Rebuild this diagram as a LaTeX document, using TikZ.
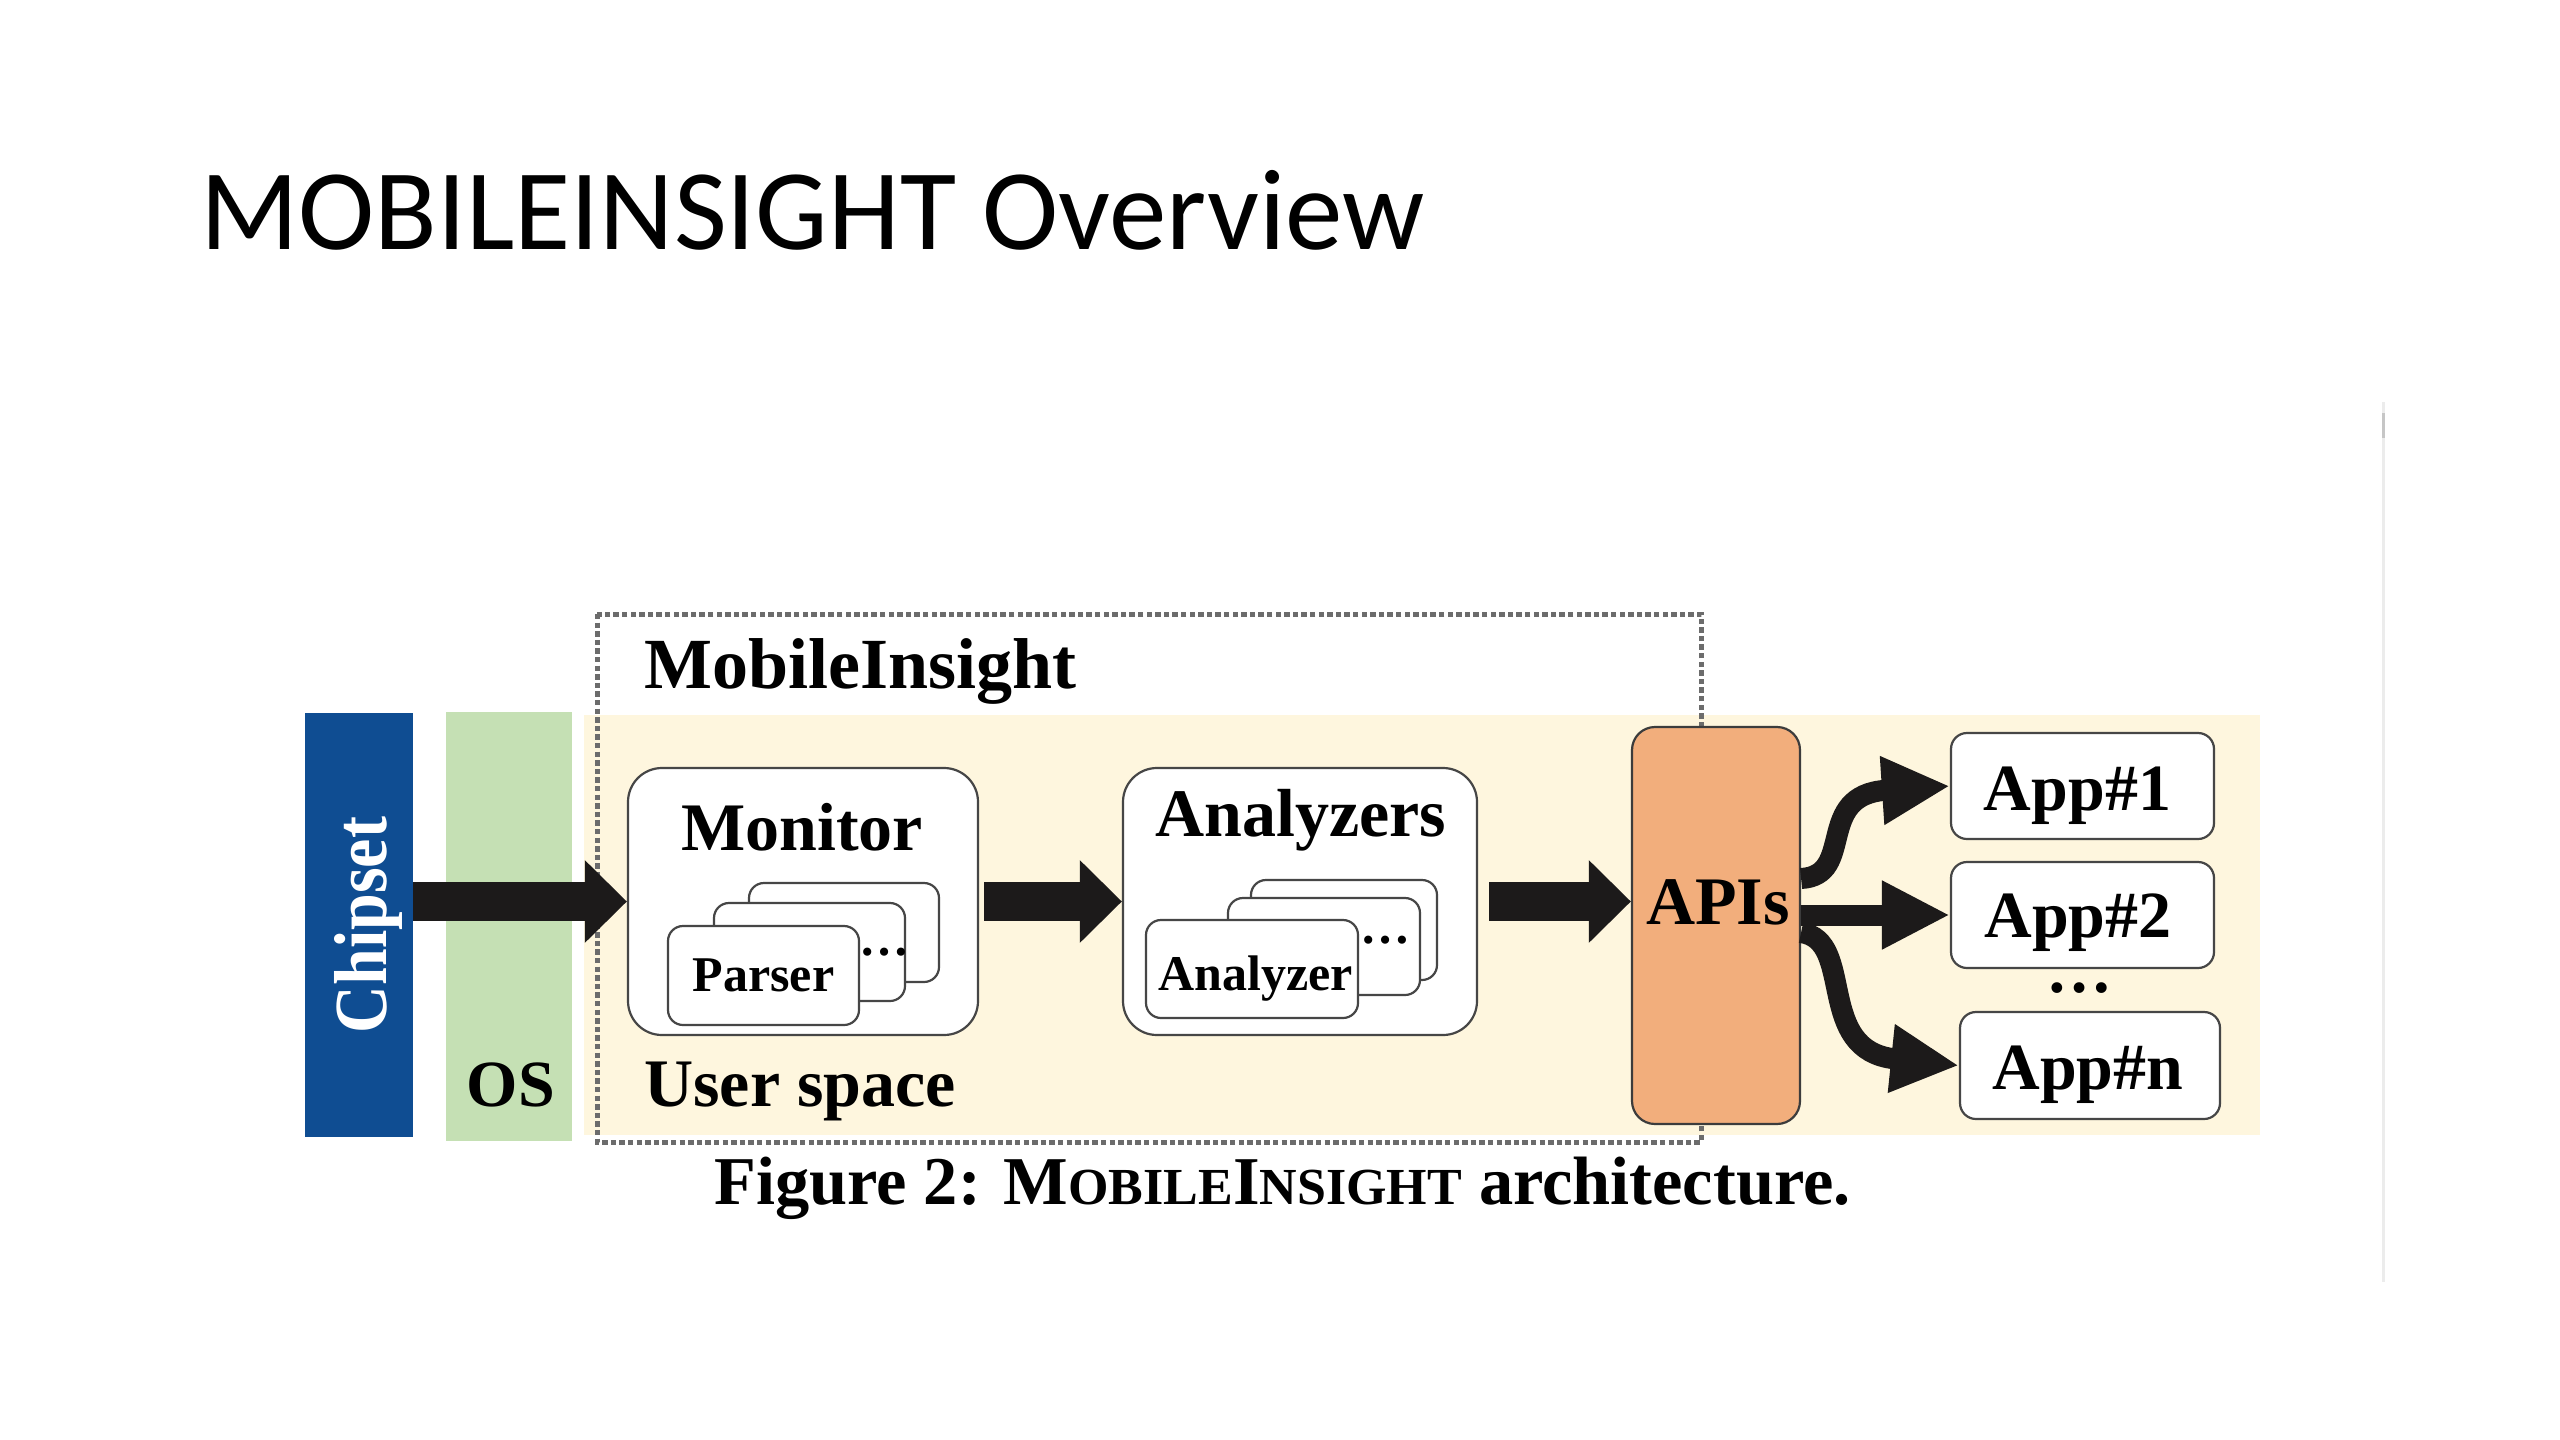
\documentclass[tikz,border=0pt]{standalone}
\usepackage{fontspec}
\setmainfont{Liberation Serif}
\newfontfamily\titlefont{Carlito}
\newfontfamily\chipfont[FakeStretch=0.88]{Liberation Serif}
\usetikzlibrary{arrows.meta,calc}
\definecolor{chipblue}{RGB}{15,77,146}
\definecolor{osgreen}{RGB}{197,224,180}
\definecolor{userbg}{RGB}{254,246,222}
\definecolor{apiorange}{RGB}{242,174,124}
\definecolor{boxline}{RGB}{70,70,70}
\definecolor{dashgray}{RGB}{108,108,108}
\definecolor{arrowblack}{RGB}{28,26,26}
\definecolor{faintline}{RGB}{236,236,236}
\begin{document}
\begin{tikzpicture}[x=0.5pt,y=-0.5pt,
  lbl/.style={inner sep=0pt, font=\bfseries\fontsize{34}{34}\selectfont},
  applbl/.style={inner sep=0pt, font=\bfseries\fontsize{33}{33}\selectfont},
  smalllbl/.style={inner sep=0pt, font=\bfseries\fontsize{25}{25}\selectfont},
  rbox/.style={draw=boxline, line width=1.1pt, fill=white, rounded corners=#1, inner sep=0pt},
  band/.style={inner sep=0pt, draw=none},
  blockarrow/.style={draw=arrowblack, line width=19.5pt, -{Triangle[length=21pt,width=40pt]}},
  curvyarrow/.style={draw=arrowblack, line width=10.5pt, -{Triangle[length=34pt,width=32pt]}},
]
% canvas
\path[fill=white,use as bounding box] (0,0) rectangle (2560,1440);

% title
\node[anchor=base west, inner sep=0pt, font=\titlefont\fontsize{57.5}{57.5}\selectfont] (title) at (200,249) {MOBILEINSIGHT Overview};

% faint slide line
\draw[faintline, line width=1.5pt] (2383,402) -- (2383,1282);
\draw[gray!45, line width=1.5pt] (2383,413) -- (2383,438);

% bands
\node[band, fill=chipblue, minimum width=54pt, minimum height=212pt] (chip) at (359,925) {};
\node[band, fill=osgreen, minimum width=63pt, minimum height=214.5pt] (os) at (509,926.5) {};
\node[band, fill=userbg, minimum width=838pt, minimum height=210pt] (user) at (1422,925) {};

% dashed MobileInsight box
\draw[dashgray, line width=2.5pt, dash pattern=on 2.7pt off 1.6pt] (597,614) rectangle (1701,1142);

% band labels
\node[rotate=90, inner sep=0pt, text=white, font=\chipfont\bfseries\fontsize{37.5}{37.5}\selectfont] (chiptext) at ($(chip.center)+(9,0)$) {Chipset};
\node[lbl, anchor=base, font=\bfseries\fontsize{33}{33}\selectfont] (ostext) at (511,1106) {OS};
\node[lbl, anchor=base west] (ustext) at (644,1106) {User space};
\node[lbl, anchor=base west, font=\bfseries\fontsize{36}{36}\selectfont] (mitext) at (644,688) {MobileInsight};

% Monitor
\node[rbox=17pt, minimum width=175pt, minimum height=133.5pt] (monitor) at (803,901.5) {};
\node[lbl, anchor=base] (montext) at (802,850) {Monitor};
\node[rbox=7.5pt, minimum width=95pt, minimum height=49.5pt] (p3) at (844,932.5) {};
\node[rbox=7.5pt, minimum width=95.5pt, minimum height=49pt] (p2) at (809.5,952) {};
\node[rbox=7.5pt, minimum width=95.5pt, minimum height=49.5pt] (p1) at (763.5,975.5) {};
\node[smalllbl, anchor=base] (ptext) at (763.5,991) {Parser};
\node[smalllbl, anchor=base] (pdots) at (884,955) {…};

% Analyzers
\node[rbox=17pt, minimum width=177pt, minimum height=133.5pt] (analyzers) at (1300,901.5) {};
\node[lbl, anchor=base] (antext) at (1301,836) {Analyzers};
\node[rbox=7.5pt, minimum width=93pt, minimum height=50pt] (a3) at (1344,930) {};
\node[rbox=7.5pt, minimum width=96pt, minimum height=48.5pt] (a2) at (1324,946.5) {};
\node[rbox=7.5pt, minimum width=106pt, minimum height=49pt] (a1) at (1252,969) {};
\node[smalllbl, anchor=base] (atext) at (1255.5,990) {Analyzer};
\node[smalllbl, anchor=base] (adots) at (1385,943) {…};

% APIs
\node[rbox=11.5pt, fill=apiorange, draw=boxline!85!black, minimum width=84pt, minimum height=198.5pt] (apis) at (1716,925.5) {};
\node[lbl, anchor=base] (apitext) at (1718,924) {APIs};

% Apps
\node[rbox=8pt, minimum width=131.5pt, minimum height=53pt] (app1) at (2082.5,786) {};
\node[rbox=8pt, minimum width=131.5pt, minimum height=53pt] (app2) at (2082.5,915) {};
\node[rbox=8pt, minimum width=130pt, minimum height=53.5pt] (appn) at (2090,1065.5) {};
\node[applbl, anchor=base] (app1text) at (2077.5,810) {App\#1};
\node[applbl, anchor=base] (app2text) at (2078,937) {App\#2};
\node[applbl, anchor=base] (appntext) at (2088,1089) {App\#n};
\node[applbl, anchor=base] (appdots) at (2079,992) {…};

% block arrows
\draw[blockarrow] (chip.east |- monitor.west) -- (monitor.west);
\draw[blockarrow, shorten <=2.5pt] (monitor.east) -- (analyzers.west);
\draw[blockarrow, shorten <=5.5pt] (analyzers.east) -- (analyzers.east -| apis.west);

% fan-out arrows
\draw[curvyarrow] ($(apis.east)+(0,-47)$) .. controls ($(apis.east)+(55,-50)$) and ($(app1.west)+(-136,9)$) .. (app1.west);
\draw[curvyarrow] (apis.east |- app2.west) -- (app2.west);
\draw[curvyarrow] ($(apis.east)+(0,7)$) .. controls ($(apis.east)+(55,15)$) and ($(appn.west)+(-145,-15)$) .. (appn.west);

% caption
\node[anchor=base west, inner sep=0pt, font=\bfseries\fontsize{34.2}{34.2}\selectfont] (caption) at (714,1204) {Figure 2: M{\fontsize{26}{26}\selectfont OBILE}I{\fontsize{26}{26}\selectfont NSIGHT} architecture.};
\end{tikzpicture}
\end{document}
